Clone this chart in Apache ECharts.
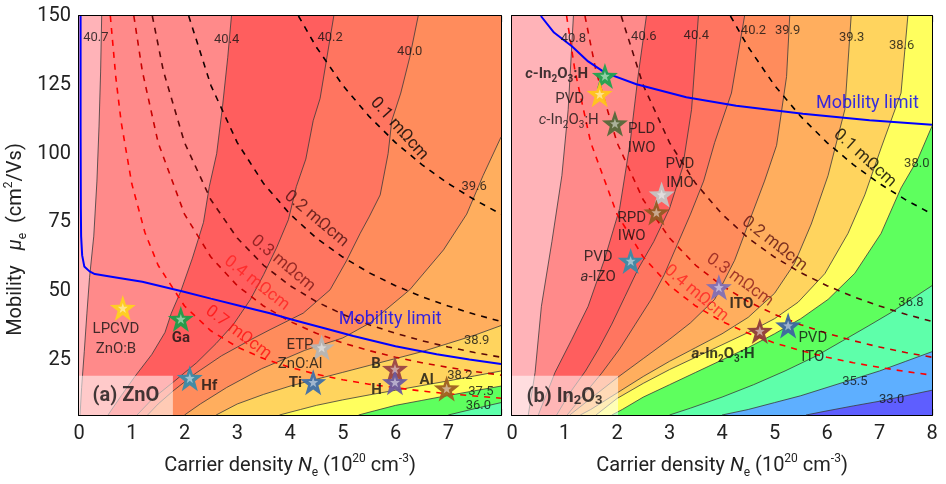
<!DOCTYPE html>
<html><head><meta charset="utf-8">
<script src="https://cdn.jsdelivr.net/npm/echarts@6/dist/echarts.min.js"></script>
<style>html,body{margin:0;padding:0;background:#fff}#c{width:946px;height:484px}</style>
</head><body><div id="c"></div>
<script>
// ---------- axis ticks ----------
const xTickLabels = [0,1,2,3,4,5,6,7,8];
const yTickValues = [25,50,75,100,125,150];
const yMinorTickValues = [12.5,37.5,62.5,87.5,112.5,137.5];

// ---------- (a) ZnO contour lines (N [1e20 cm^-3], mobility) ----------
const zno360=[[8,9.5],[7.5,7.3],[7.0,5]];
const zno375=[[8,15.5],[7.5,13.8],[7,12.1],[6.5,10.3],[6,8.5],[5.6,6.5],[5.3,5]];
const zno382=[[8,21],[7.5,19.2],[7,17.4],[6.5,15.7],[6,14],[5.5,12.3],[5,10.5],[4.5,8.5],[4.2,7],[3.8,5]];
const zno389=[[8,37.5],[7.5,34],[7,31],[6.5,28],[6,25.5],[5.5,23],[5,20.5],[4.5,18],[4,15.5],[3.5,12.5],[3,9],[2.6,5]];
const zno396=[[8,106],[7.66,92],[7.35,78],[6.91,65],[6.27,50.5],[5.52,38.5],[5.0,33],[4.28,28.5],[3.46,21.8],[2.8,15],[2.3,9],[2.0,5]];
const zno400=[[6.43,150],[6.27,135],[6.1,122],[5.93,112],[5.86,100],[5.71,85],[5.5,77],[5.33,71],[5.07,61],[4.76,50.5],[4.25,42],[3.62,36],[3.27,32.5],[2.7,26.5],[2.2,20],[1.8,14],[1.5,9],[1.3,5]];
const zno402=[[4.83,150],[4.7,135],[4.57,120],[4.44,112],[4.3,98],[4.12,88],[3.97,76],[3.75,66],[3.5,56],[3.25,47],[2.93,38],[2.6,31],[2.23,24],[1.79,17],[1.4,11],[1.1,5]];
const zno404=[[2.89,150],[2.82,135],[2.72,117],[2.61,100],[2.47,88],[2.36,75],[2.15,62],[1.93,50],[1.75,42],[1.63,35],[1.38,27],[1.06,19],[0.8,12],[0.55,5]];
const zno407=[[0.43,150],[0.41,130],[0.38,110],[0.34,90],[0.28,70],[0.2,55],[0.15,42],[0.1,28],[0.05,15],[0.02,5]];
const znoContours=[zno360,zno375,zno382,zno389,zno396,zno400,zno402,zno404,zno407];
const znoLevelLabels=[[0.32,142,'40.7'],[2.8,141.4,'40.4'],[4.76,142.2,'40.2'],[6.27,137,'40.0'],[7.49,87.9,'39.6'],[7.54,31.9,'38.9'],[7.22,19.3,'38.2'],[7.62,13.6,'37.5'],[7.57,8.3,'36.0']];

// ---------- (b) In2O3 contour lines ----------
const ino330=[[8,14],[7.5,12],[7,10],[6.5,8.3],[6,6.5],[5.6,5]];
const ino355=[[8,28],[7.5,24.5],[7,21],[6.5,18],[6,15],[5.5,12],[5,9.5],[4.5,7],[4,5]];
const ino368=[[8,52],[7.6,47],[7.2,42],[6.8,37.5],[6.3,32],[5.8,26.5],[5.2,21],[4.6,16],[4.0,11.5],[3.4,7.5],[3.0,5]];
const ino380=[[8,110],[7.73,98],[7.41,87.5],[7.03,71],[6.53,56.5],[6.02,47],[5.5,40],[5.0,34.5],[4.5,29.5],[4.0,25],[3.5,20.5],[3.0,16],[2.5,11.5],[2.1,7],[1.9,5]];
const ino386=[[7.54,150],[7.41,122],[7.03,102],[6.72,85],[6.4,71],[5.96,56.4],[5.45,46],[5.0,40],[4.5,35],[4.0,30.5],[3.5,26],[3.0,21.5],[2.5,16.5],[2.0,11],[1.6,5]];
const ino393=[[6.46,150],[6.34,116],[6.02,92],[5.7,74.4],[5.38,60],[5.0,49.2],[4.5,40.5],[4.0,34.5],[3.5,29.5],[3.0,24.5],[2.5,19],[2.0,13],[1.5,7],[1.3,5]];
const ino399=[[5.29,150],[5.23,128],[5.04,103],[4.81,90],[4.5,74.4],[4.24,61.2],[3.86,47],[3.4,38.5],[3.0,32.5],[2.5,25.5],[2.0,18.5],[1.5,11],[1.1,5]];
const ino402=[[4.43,150],[4.18,122],[3.86,104],[3.65,90],[3.4,78],[3.15,67],[2.9,56],[2.65,47],[2.35,38],[2.05,29],[1.7,20],[1.35,12],[1.05,5]];
const ino404=[[3.55,150],[3.42,116],[3.25,95],[3.0,80],[2.7,68],[2.4,58],[2.15,48],[1.9,38],[1.65,29],[1.4,21],[1.1,13],[0.85,5]];
const ino406=[[2.56,150],[2.4,128],[2.25,104],[2.05,80],[1.77,62],[1.45,44.5],[1.14,32.5],[0.82,20.5],[0.5,5]];
const ino408=[[1.17,150],[1.07,116],[0.95,92],[0.76,68],[0.56,44.5],[0.44,20.5],[0.31,5]];
const inoContours=[ino330,ino355,ino368,ino380,ino386,ino393,ino399,ino402,ino404,ino406,ino408];
const inoLevelLabels=[[1.17,141.6,'40.8'],[2.51,142.6,'40.6'],[3.51,142.8,'40.4'],[4.6,144.7,'40.2'],[5.25,144.7,'39.9'],[6.47,142,'39.3'],[7.42,139.2,'38.6'],[7.71,96.2,'38.0'],[7.6,45.9,'36.8'],[6.53,17.2,'35.5'],[7.23,10.4,'33.0']];

// ---------- iso-resistivity lines ----------
const rho01=[[4.16,150],[4.5,138.7],[5,124.8],[5.5,113.5],[6,104],[6.5,96],[7,89.1],[7.5,83.2],[8,78]];
const rho02=[[2.08,150],[2.5,124.8],[3,104],[3.5,89.1],[4,78],[4.5,69.3],[5,62.4],[5.5,56.7],[6,52],[6.5,48],[7,44.6],[7.5,41.6],[8,39]];
const rho03=[[1.39,150],[1.6,130],[2,104],[2.5,83.2],[3,69.3],[3.5,59.4],[4,52],[4.5,46.2],[5,41.6],[5.5,37.8],[6,34.7],[6.5,32],[7,29.7],[7.5,27.7],[8,26]];
const rho04=[[1.04,150],[1.2,130],[1.5,104],[2,78],[2.5,62.4],[3,52],[3.5,44.6],[4,39],[4.5,34.7],[5,31.2],[5.5,28.4],[6,26],[6.5,24],[7,22.3],[7.5,20.8],[8,19.5]];
const rho07=[[0.594,150],[0.7,127.3],[0.8,111.4],[1,89.1],[1.25,71.3],[1.5,59.4],[2,44.6],[2.5,35.6],[3,29.7],[3.5,25.5],[4,22.3],[4.5,19.8],[5,17.8],[5.5,16.2],[6,14.9],[6.5,13.7],[7,12.7],[7.5,11.9],[8,11.1]];
const znoRhoLabels=[[6.07,109,'0.1 mΩcm'],[4.5,76.2,'0.2 mΩcm'],[3.87,60,'0.3 mΩcm'],[3.37,52.8,'0.4 mΩcm'],[3.02,34.9,'0.7 mΩcm']];
const inoRhoLabels=[[6.72,98.3,'0.1 mΩcm'],[5.0,67.2,'0.2 mΩcm'],[4.34,54,'0.3 mΩcm'],[3.51,49.2,'0.4 mΩcm']];

// ---------- mobility limits ----------
const znoMobLimit=[[0.03,150],[0.03,110],[0.035,80],[0.04,70],[0.06,63],[0.1,59],[0.2,57.2],[0.3,56.2],[0.7,55],[1.2,53.4],[1.95,50],[2.5,47.3],[3.08,44.5],[3.62,42],[4.03,39.7],[4.6,36.8],[5.2,33.7],[6.0,30],[6.78,27.1],[7.4,25.2],[8,23.5]];
const inoMobLimit=[[0.55,150],[0.8,144],[1.14,139],[1.45,133.5],[1.77,129.4],[2.37,125.2],[3.32,120.5],[4.27,117.4],[5.54,114.5],[6.81,112.1],[8,110.5]];

// ---------- literature points ----------
const znoStarPts=[[0.83,43.9],[1.93,39.9],[2.1,18.4],[4.6,29.5],[4.44,16.9],[5.99,21.7],[5.99,16.9],[6.97,14.6]];
const inoStarPts=[[1.77,128.2],[1.67,121.6],[1.96,110.9],[2.85,85.1],[2.75,78.6],[2.26,61],[3.94,51.4],[4.72,35.5],[5.26,37.5]];
const znoNotes=[[0.7,36,'LPCVD'],[0.7,28.9,'ZnO:B'],[1.93,32.9,'{b|Ga}'],[2.47,15.5,'{b|Hf}'],[4.19,30.4,'ETP'],[4.19,23.5,'ZnO:Al'],[4.1,16.4,'{b|Ti}'],[5.63,23.5,'{b|B}'],[5.64,14,'{b|H}'],[6.59,17.5,'{b|Al}']];
const inoNotes=[[0.85,128.8,'{bi|c}{b|-In}{bs|2}{b|O}{bs|3}{b|:H}'],[1.1,119.8,'PVD'],[1.08,112,'{i|c}-In{s|2}O{s|3}:H'],[2.47,108.8,'PLD'],[2.47,101.9,'IWO'],[3.2,96.2,'PVD'],[3.2,89.3,'IMO'],[2.28,76.5,'RPD'],[2.28,69.8,'IWO'],[1.64,62.4,'PVD'],[1.64,55.2,'{i|a}-IZO'],[4.37,45.3,'{b|ITO}'],[4.02,27.1,'{bi|a}{b|-In}{bs|2}{b|O}{bs|3}{b|:H}'],[5.73,33,'PVD'],[5.73,25.9,'ITO']];
const znoMobText=[[5.9,39.7,'Mobility limit']];
const inoMobText=[[6.77,118.1,'Mobility limit']];
const znoPanelBox=[[0,19.3],[1.78,5]];
const inoPanelBox=[[0,19.3],[2.02,5]];
const znoPanelTitle=[[0.89,12,'(a) ZnO']];
const inoPanelTitle=[[1.0,11.4,'(b) In{s|2}O{s|3}']];

// ---------- styles ----------
const znoBandColors=['#5EFFAA','#5EFF5E','#FFFF5E','#FFD45E','#FFAE5E','#FF8C5C','#FF7560','#FF5E5E','#FF8A8A','#FFB3B8'];
const inoBandColors=['#5E5EFF','#5EAFFF','#5EFFAA','#5EFF5E','#FFFF5E','#FFD45E','#FFAE5E','#FF8C5C','#FF7560','#FF5E5E','#FF8A8A','#FFB3B8'];
const znoStarColors=['#FFD21F','#1E9E4A','#3A8BA8','#B5B5B5','#3F6FA8','#9A4545','#6B5A9E','#9E6020'];
const inoStarColors=['#22A34F','#FFC61A','#55683A','#C4C4C4','#935A24','#3A8BA8','#8270B5','#8E3B3B','#3D64A0'];
const znoRhoStyles=[['#000','#000',-48],['#150000','#4a1010',-40],['#5a0808','#7a1515',-40],['#c80000','#ff2020',-38],['#ff0000','#ff1010',-37]];
const inoRhoStyles=[['#000','#000',-42],['#5a0808','#5a1010',-38],['#d00000','#8b1a1a',-36],['#ff0000','#ff2020',-40]];
const STAR='path://M50,0L61.76,33.82L97.55,34.55L69.02,56.18L79.39,90.45L50,70L20.61,90.45L30.98,56.18L2.45,34.55L38.24,33.82Z';
const FONT='Roboto';

const richText={
  b:{fontWeight:'bold',fontSize:15,fontFamily:FONT,color:'#111',lineHeight:20},
  bi:{fontWeight:'bold',fontStyle:'italic',fontSize:15,fontFamily:FONT,color:'#111',lineHeight:20},
  bs:{fontWeight:'bold',fontSize:10,fontFamily:FONT,color:'#111',verticalAlign:'bottom',lineHeight:13},
  i:{fontStyle:'italic',fontSize:15,fontFamily:FONT,color:'#111',lineHeight:20},
  s:{fontSize:10,fontFamily:FONT,color:'#111',verticalAlign:'bottom',lineHeight:13},
  t:{fontSize:20,fontWeight:'bold',fontFamily:FONT,color:'#111',lineHeight:24},
  ts:{fontSize:13,fontWeight:'bold',fontFamily:FONT,color:'#111',verticalAlign:'bottom',lineHeight:15}
};

function bandSeries(contours, colors, xi, yi){
  return {type:'custom',xAxisIndex:xi,yAxisIndex:yi,clip:true,silent:true,z:1,animation:false,
    data:colors.map(()=>[4,50]),
    renderItem:function(params,api){
      const i=params.dataIndex;
      let pts;
      if(i===0){pts=[[0,5],[8,5],[8,150],[0,150]];}
      else{
        const c=contours[i-1];
        pts=c.slice();
        pts.push([0,5],[0,150]);
        if(c[0][0]>=7.999) pts.push([8,150]);
      }
      return {type:'polygon',shape:{points:pts.map(p=>api.coord(p))},style:{fill:colors[i]}};
    }};
}
function lineSeries(data, xi, yi, style, z){
  return {type:'line',xAxisIndex:xi,yAxisIndex:yi,data:data,symbol:'none',silent:true,animation:false,z:z,lineStyle:style};
}
function boxSeries(box, xi, yi){
  return {type:'custom',xAxisIndex:xi,yAxisIndex:yi,clip:true,silent:true,z:6,animation:false,data:[[0,50]],
    renderItem:function(params,api){
      const a=api.coord(box[0]), b=api.coord(box[1]);
      return {type:'rect',shape:{x:a[0],y:a[1],width:b[0]-a[0],height:b[1]-a[1]},style:{fill:'rgba(255,255,255,0.55)'}};
    }};
}
function textSeries(items, xi, yi, labelStyle, perItem){
  return {type:'scatter',xAxisIndex:xi,yAxisIndex:yi,symbolSize:1,silent:true,animation:false,z:20,
    itemStyle:{color:'rgba(0,0,0,0)'},
    data:items.map((it,k)=>{
      const d={value:[it[0],it[1]],t:it[2]};
      if(perItem) d.label=perItem(k);
      return d;
    }),
    label:Object.assign({show:true,position:'inside',formatter:p=>p.data.t,rich:richText,fontFamily:FONT,color:'#111'},labelStyle)};
}
function starSeries(pts, colors, xi, yi){
  return [
    {type:'scatter',xAxisIndex:xi,yAxisIndex:yi,symbol:STAR,symbolSize:26,silent:true,animation:false,z:15,
      data:pts.map((p,k)=>({value:p,itemStyle:{color:colors[k],opacity:0.95}}))},
    {type:'scatter',xAxisIndex:xi,yAxisIndex:yi,symbol:STAR,symbolSize:10,silent:true,animation:false,z:16,
      data:pts.map(p=>({value:p})),itemStyle:{color:'rgba(255,255,255,0.6)'}}
  ];
}

const nameRich={
  t:{fontSize:20,fontFamily:FONT,color:'#222',lineHeight:26},
  n:{fontSize:20,fontFamily:FONT,fontStyle:'italic',color:'#222',lineHeight:26},
  sub:{fontSize:12,fontFamily:FONT,color:'#222',verticalAlign:'bottom',lineHeight:13},
  sup:{fontSize:12,fontFamily:FONT,color:'#222',verticalAlign:'top',lineHeight:13},
  pad:{fontSize:20,width:48,lineHeight:26}
};
function xAx(grid,pos,labels,name){
  return {gridIndex:grid,type:'value',min:0,max:8,interval:1,position:pos,
    axisLine:{show:true,onZero:false,lineStyle:{color:'#000',width:2}},
    axisTick:{show:true,inside:true,length:6,lineStyle:{color:'#000',width:1.2}},
    minorTick:{show:true,splitNumber:2,length:3,lineStyle:{color:'#000',width:1.2}},
    axisLabel:labels?{show:true,fontSize:20,fontFamily:FONT,color:'#222',margin:9,
      formatter:v=>(labels==='no8'&&v===8)?'':String(v)}:{show:false},
    splitLine:{show:false},
    name:name||'',nameLocation:'middle',nameGap:38,nameTextStyle:{rich:nameRich}};
}
function yAx(grid,pos,major,labels,name){
  return {gridIndex:grid,type:'value',min:5,max:150,position:pos,
    axisLine:{show:major,onZero:false,lineStyle:{color:'#000',width:2}},
    axisTick:{show:true,inside:true,length:major?6:3,customValues:major?yTickValues:yMinorTickValues,lineStyle:{color:'#000',width:1.2}},
    axisLabel:labels?{show:true,customValues:yTickValues,fontSize:20,fontFamily:FONT,color:'#222',margin:8}:{show:false},
    splitLine:{show:false},
    name:name||'',nameLocation:'middle',nameGap:50,nameRotate:90,nameTextStyle:{rich:nameRich}};
}
const xName='{t|Carrier density }{n|N}{sub|e}{t| (10}{sup|20}{t| cm}{sup|-3}{t|)}';
const yName='{t|Mobility   }{n|μ}{sub|e}{t|  (cm}{sup|2}{t|/Vs)}{pad| }';

const series=[];
function panel(xi, yi, contours, bandColors, levelLabels, rhoLines, rhoStyles, rhoLabels, mob, mobText, starPts, starColors, notes, box, title){
  series.push(bandSeries(contours,bandColors,xi,yi));
  contours.forEach(c=>series.push(lineSeries(c,xi,yi,{color:'#3a3a3a',width:0.8},3)));
  rhoLines.forEach((r,k)=>series.push(lineSeries(r,xi,yi,{color:rhoStyles[k][0],width:1.6,type:[6,6]},4)));
  series.push(lineSeries(mob,xi,yi,{color:'#0000FF',width:2},5));
  series.push(boxSeries(box,xi,yi));
  starSeries(starPts,starColors,xi,yi).forEach(s=>series.push(s));
  series.push(textSeries(levelLabels,xi,yi,{fontSize:13,color:'#111'}));
  series.push(textSeries(rhoLabels,xi,yi,{fontSize:17},k=>({rotate:rhoStyles[k][2],color:rhoStyles[k][1]})));
  series.push(textSeries(mobText,xi,yi,{fontSize:18,color:'#0000FF'}));
  series.push(textSeries(notes,xi,yi,{fontSize:15,color:'#111'}));
  series.push(textSeries(title,xi,yi,{fontSize:20,fontWeight:'bold',color:'#111',rich:Object.assign({},richText,{s:richText.ts})}));
}
panel(0,0,znoContours,znoBandColors,znoLevelLabels,[rho01,rho02,rho03,rho04,rho07],znoRhoStyles,znoRhoLabels,znoMobLimit,znoMobText,znoStarPts,znoStarColors,znoNotes,znoPanelBox,znoPanelTitle);
panel(2,4,inoContours,inoBandColors,inoLevelLabels,[rho01,rho02,rho03,rho04],inoRhoStyles,inoRhoLabels,inoMobLimit,inoMobText,inoStarPts,inoStarColors,inoNotes,inoPanelBox,inoPanelTitle);

const option={
  animation:false,
  textStyle:{fontFamily:FONT},
  grid:[{left:79,top:16,width:422,height:404},{left:512,top:16,width:420,height:404}],
  xAxis:[xAx(0,'bottom','no8',xName),xAx(0,'top',false),xAx(1,'bottom','all',xName),xAx(1,'top',false)],
  yAxis:[yAx(0,'left',true,true,yName),yAx(0,'left',false,false),yAx(0,'right',true,false),yAx(0,'right',false,false),
         yAx(1,'left',true,false),yAx(1,'left',false,false),yAx(1,'right',true,false),yAx(1,'right',false,false)],
  series:series
};
const chart=echarts.init(document.getElementById('c'),null,{renderer:'canvas'});
chart.setOption(option);
</script></body></html>
